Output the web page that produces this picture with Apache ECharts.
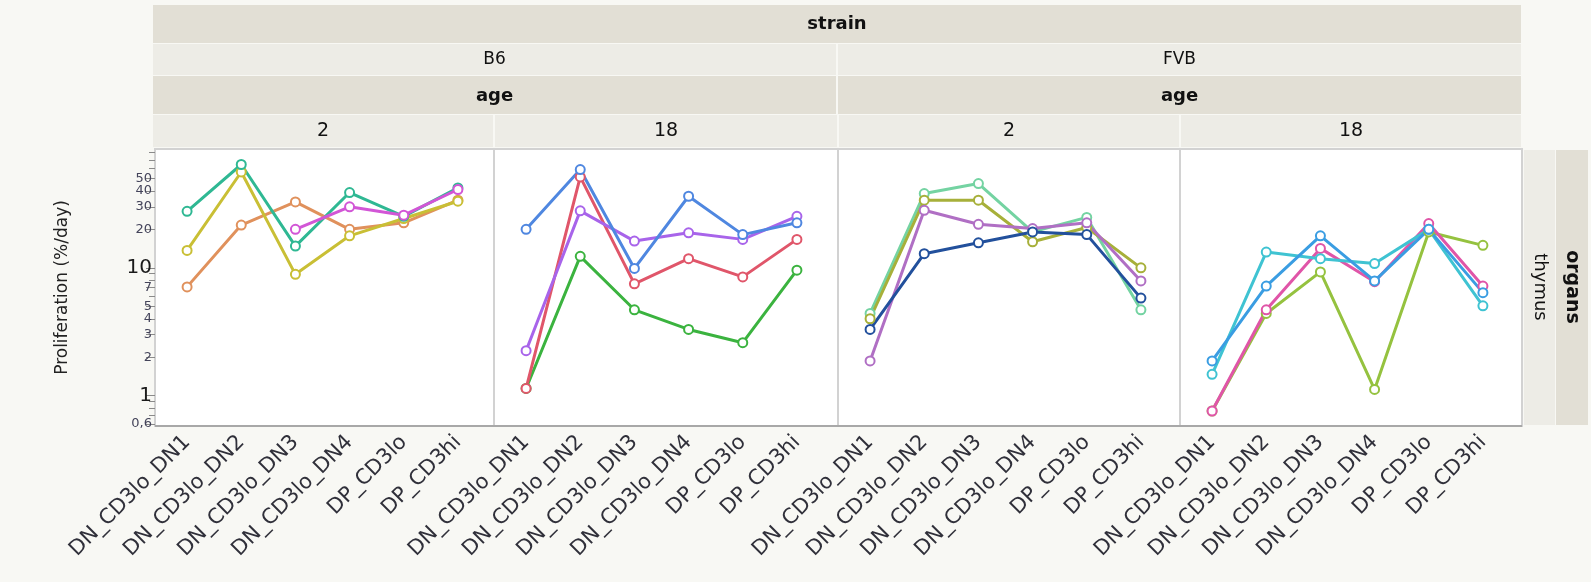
<!DOCTYPE html>
<html><head><meta charset="utf-8">
<script src="https://cdn.jsdelivr.net/npm/echarts@6/dist/echarts.min.js"></script>
<style>html,body{margin:0;padding:0;background:#f8f8f4;}#c{width:1591px;height:582px;}</style>
</head><body><div id="c"></div>
<script>
// ---------- data ----------
const categories = ['DN_CD3lo_DN1','DN_CD3lo_DN2','DN_CD3lo_DN3','DN_CD3lo_DN4','DP_CD3lo','DP_CD3hi'];
const strains = ['B6','FVB'];
const ages = ['2','18'];
const organs = ['thymus'];
const yLabelValues = [0.6, 1, 2, 3, 4, 5, 7, 10, 20, 30, 40, 50];
const yMinorTicks = [0.7, 0.8, 0.9, 6, 8, 9, 60, 70, 80];
const yMin = 0.58, yMax = 85;

// B6, age 2
const b6_2_teal    = [27.7, 64.3, 14.8, 38.8, 25.3, 42.2];
const b6_2_yellow  = [13.7, 56.2, 8.9, 17.8, 24.3, 33.2];
const b6_2_orange  = [7.1, 21.6, 32.8, 20.0, 22.5, 33.8];
const b6_2_magenta = [null, null, 20.0, 30.0, 25.8, 41.0];
// B6, age 18
const b6_18_blue   = [20.0, 58.7, 9.9, 36.3, 18.2, 22.5];
const b6_18_red    = [1.14, 51.4, 7.5, 11.8, 8.5, 16.7];
const b6_18_purple = [2.25, 27.9, 16.2, 18.8, 16.7, 25.3];
const b6_18_green  = [1.14, 12.3, 4.7, 3.3, 2.6, 9.6];
// FVB, age 2
const fvb_2_mint   = [4.4, 38.1, 45.6, 19.1, 24.8, 4.7];
const fvb_2_olive  = [4.0, 33.8, 33.8, 16.0, 20.7, 10.0];
const fvb_2_purple = [1.87, 28.2, 21.9, 20.3, 22.5, 7.9];
const fvb_2_navy   = [3.3, 12.9, 15.7, 19.1, 18.2, 5.8];
// FVB, age 18
const fvb_18_blue  = [1.87, 7.2, 17.8, 7.9, 20.0, 6.4];
const fvb_18_cyan  = [1.47, 13.3, 11.8, 10.8, 20.0, 5.05];
const fvb_18_pink  = [0.76, 4.7, 14.2, 7.8, 22.2, 7.2];
const fvb_18_green = [0.76, 4.4, 9.3, 1.12, 19.1, 15.0];

// ---------- styling / layout ----------
const panels = [
  {strain: 0, age: 0, lines: [[b6_2_orange,'#e0915c'],[b6_2_yellow,'#c9bf35'],[b6_2_teal,'#2fb893'],[b6_2_magenta,'#d256d6']]},
  {strain: 0, age: 1, lines: [[b6_18_green,'#3bb33f'],[b6_18_red,'#e0566a'],[b6_18_purple,'#a864ea'],[b6_18_blue,'#4f87e0']]},
  {strain: 1, age: 0, lines: [[fvb_2_mint,'#74d3a2'],[fvb_2_olive,'#a7b03a'],[fvb_2_purple,'#b06fc4'],[fvb_2_navy,'#22509c']]},
  {strain: 1, age: 1, lines: [[fvb_18_green,'#95c23f'],[fvb_18_pink,'#e055a8'],[fvb_18_cyan,'#3fc3d2'],[fvb_18_blue,'#3a9de2']]}
];
const panelX = [155, 494, 838, 1180, 1522];
const plotTop = 149, plotBottom = 426;
const gridInset = 5, gridW = 325;
const headL = 153, headR = 1521;
const dark = '#e2dfd5', light = '#edece6';
const fontMain = '"DejaVu Sans", Verdana, sans-serif';

const grids = [], xAxes = [], yAxes = [], series = [];
panels.forEach((p, i) => {
  grids.push({left: panelX[i] + gridInset, width: gridW, top: plotTop, height: plotBottom - plotTop, containLabel: false});
  xAxes.push({
    type: 'category', gridIndex: i, data: categories, boundaryGap: true,
    axisLine: {show: false}, axisTick: {show: false}, splitLine: {show: false},
    axisLabel: {interval: 0, rotate: 45, fontSize: 21, fontFamily: fontMain, color: '#30303a', margin: 13}
  });
  yAxes.push({type: 'log', logBase: 10, gridIndex: i, min: yMin, max: yMax, show: false});
  p.lines.forEach(([data, color]) => {
    series.push({
      type: 'line', xAxisIndex: i, yAxisIndex: i, data: data,
      symbol: 'emptyCircle', symbolSize: 9, connectNulls: false,
      lineStyle: {width: 3, color: color},
      itemStyle: {color: color, borderColor: color, borderWidth: 2},
      emphasis: {disabled: true}, z: 3
    });
  });
});
const lmin = Math.log10(yMin), lmax = Math.log10(yMax);
// label positions (log10 space); an empty label at the top end keeps ECharts'
// min/max overlap rule from hiding "40"/"50"
const labelPositions = yLabelValues.map(Math.log10).concat([lmax]);
// label + major tick axis (same extent in log10 space as the log axes)
yAxes.push({
  type: 'value', gridIndex: 0, min: lmin, max: lmax, position: 'left', offset: gridInset,
  name: 'Proliferation (%/day)', nameLocation: 'middle', nameGap: 84,
  nameTextStyle: {fontSize: 17, fontFamily: fontMain, color: '#222'},
  axisLine: {show: false}, splitLine: {show: false},
  axisTick: {show: true, customValues: yLabelValues.map(Math.log10), length: 9, lineStyle: {color: '#8a8a8a', width: 1}},
  axisLabel: {
    customValues: labelPositions, margin: 3,
    showMinLabel: true, showMaxLabel: true, hideOverlap: false,
    formatter: v => {
      if (Math.abs(v - lmax) < 1e-9) return '';
      const raw = Math.round(Math.pow(10, v) * 10) / 10;
      const s = String(raw).replace('.', ',');
      return (raw === 1 || raw === 10) ? '{big|' + s + '}' : '{sm|' + s + '}';
    },
    rich: {
      big: {fontSize: 20, fontFamily: fontMain, color: '#1a1a1a'},
      sm: {fontSize: 13, fontFamily: fontMain, color: '#44445a'}
    }
  }
});
yAxes.push({
  type: 'value', gridIndex: 0, min: lmin, max: lmax, position: 'left', offset: gridInset,
  axisLine: {show: false}, splitLine: {show: false}, axisLabel: {show: false},
  axisTick: {show: true, customValues: yMinorTicks.map(Math.log10), length: 6, lineStyle: {color: '#8a8a8a', width: 1}}
});

// ---------- decorations (strips, panel frames) ----------
const g = [];
const rect = (x, y, w, h, fill, extra) => g.push(Object.assign({type: 'rect', shape: {x, y, width: w, height: h}, style: {fill}, z: -5, silent: true}, extra || {}));
const text = (x, y, t, size, bold, rot) => g.push({type: 'text', x, y, rotation: rot || 0, z: 5, silent: true,
  style: {text: t, fontSize: size, fontWeight: bold ? 'bold' : 'normal', fontFamily: fontMain, fill: '#111',
          align: 'center', verticalAlign: 'middle', textAlign: 'center', textVerticalAlign: 'middle'}});
// strain row
rect(headL, 5, headR - headL, 38, dark);
text((headL + headR) / 2, 24, 'strain', 18, true);
// strain values and age label rows
strains.forEach((s, k) => {
  const x0 = k === 0 ? headL : panelX[2];
  const x1 = k === 0 ? panelX[2] - 2 : headR;
  rect(x0, 44, x1 - x0, 31, light);
  text((x0 + x1) / 2, 60, s, 17, false);
  rect(x0, 76, x1 - x0, 38, dark);
  text((x0 + x1) / 2, 96, 'age', 18, true);
});
// age values
panels.forEach((p, i) => {
  const x0 = i === 0 ? headL : panelX[i] + 1;
  const x1 = i === 3 ? headR : panelX[i + 1] - 1;
  rect(x0, 115, x1 - x0, 32, light);
  text((x0 + x1) / 2, 131, ages[p.age], 19, false);
});
// plot panels
panels.forEach((p, i) => {
  rect(panelX[i], plotTop, panelX[i + 1] - panelX[i], plotBottom - plotTop, '#ffffff',
       {style: {fill: '#ffffff', stroke: '#d2d2d2', lineWidth: 2}});
});
g.push({type: 'line', shape: {x1: panelX[0], y1: plotBottom, x2: panelX[4], y2: plotBottom}, style: {stroke: '#a8a8a8', lineWidth: 2}, z: 1, silent: true});
// organs strip
rect(1524, 150, 31, 275, light);
text(1540, 287, organs[0], 18, false, -Math.PI / 2);
rect(1556, 150, 32, 275, dark);
text(1572, 287, 'organs', 19, true, -Math.PI / 2);

const chart = echarts.init(document.getElementById('c'), null, {renderer: 'canvas'});
chart.setOption({
  backgroundColor: '#f8f8f4',
  animation: false,
  grid: grids, xAxis: xAxes, yAxis: yAxes, series: series,
  graphic: {elements: g}
});
</script></body></html>
